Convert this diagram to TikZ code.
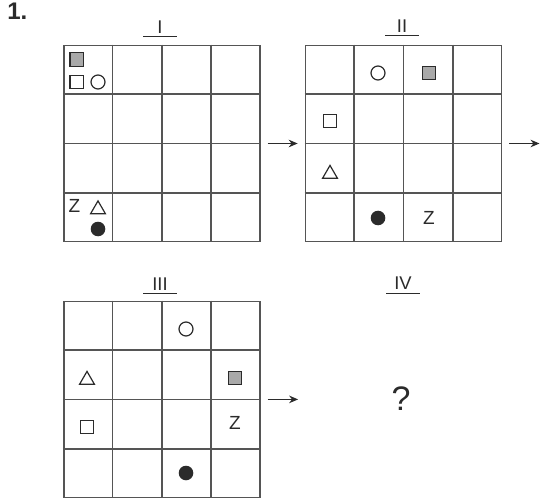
\documentclass[tikz,border=0pt]{standalone}
\usepackage{fontspec}
\setmainfont{Liberation Sans}
\usetikzlibrary{arrows.meta,calc,shapes.geometric}
\definecolor{ink}{HTML}{2B2B2B}
\definecolor{rule}{HTML}{555555}
\definecolor{shade}{HTML}{A9A9A9}

\begin{document}
\begin{tikzpicture}[x=0.5pt, y=-0.5pt, every node/.style={text=ink},
      board/.style={draw=rule, line width=0.85pt, minimum size=98pt, inner sep=0pt},
      gline/.style={draw=rule, line width=0.75pt},
      lab/.style={anchor=base, minimum width=16.5pt, inner sep=0pt, font=\fontsize{9.2}{11}\selectfont},
      uline/.style={draw=ink, line width=0.6pt},
      osq/.style={draw=ink, line width=0.6pt, minimum size=6.8pt, inner sep=0pt},
      gsq/.style={osq, fill=shade},
      ring/.style={circle, draw=ink, line width=0.6pt, minimum size=7pt, inner sep=0pt},
      dot/.style={circle, fill=ink, minimum size=7.3pt, inner sep=0pt},
      tri/.style={regular polygon, regular polygon sides=3, draw=ink, line width=0.6pt, minimum size=8.6pt, inner sep=0pt},
      letter/.style={inner sep=0pt, font=\fontsize{9.5}{11}\selectfont},
      arr/.style={-{Stealth[length=4.5pt,width=3.8pt]}, draw=ink, line width=0.55pt}]
    \useasboundingbox (0,0) rectangle (540,502);
    \node[anchor=base west, inner sep=0pt, font=\bfseries\fontsize{12}{14}\selectfont] (num) at (7,19.5) {1.};
    % boards
    \node[board] (g1) at (161.75,143.5) {};
    \node[board] (g2) at (403.5,143.5) {};
    \node[board] (g3) at (161.75,399.4) {};
    \node[minimum size=98pt, inner sep=0pt] (g4) at (403.5,399.4) {};
    \foreach \g in {g1,g2,g3} \foreach \k in {1,2,3} {
      \draw[gline] ($(\g.north west)!\k/4!(\g.north east)$) -- ($(\g.south west)!\k/4!(\g.south east)$);
      \draw[gline] ($(\g.north west)!\k/4!(\g.south west)$) -- ($(\g.north east)!\k/4!(\g.south east)$);
    }
    % titles
    \node[lab] (t1) at (160,34) {I};
    \node[lab] (t2) at (402,33) {II};
    \node[lab] (t3) at (160,290.5) {III};
    \node[lab] (t4) at (403,289.5) {IV};
    \foreach \t in {t1,t2,t3} \draw[uline] ([yshift=-1.1pt]\t.south west) -- ([yshift=-1.1pt]\t.south east);
    \draw[uline] ([yshift=-1.9pt]t4.south west) -- ([yshift=-1.9pt]t4.south east);
    % board I
    \node[gsq] (s1) at (76.7,59.5) {};
    \node[osq] (o1) at (76.7,82) {};
    \node[ring] (c1) at (98,82) {};
    \node[letter] (z1) at (74.5,206) {Z};
    \node[tri] (d1) at (98,209.5) {};
    \node[dot] (b1) at (98,229) {};
    % board II
    \node[ring] (c2) at (378,73) {};
    \node[gsq] (s2) at (429,73) {};
    \node[osq] (o2) at (330,121) {};
    \node[tri] (d2) at (330,174) {};
    \node[dot] (b2) at (378,218) {};
    \node[letter] (z2) at (429,218) {Z};
    % board III
    \node[ring] (c3) at (186,329) {};
    \node[tri] (d3) at (87,380) {};
    \node[gsq] (s3) at (235,378) {};
    \node[osq] (o3) at (87,427) {};
    \node[letter] (z3) at (235,423) {Z};
    \node[dot] (b3) at (186,473) {};
    % board IV
    \node[font=\fontsize{17}{20}\selectfont, inner sep=0pt] (q) at (401,399) {?};
    \coordinate (rim) at (539.5,143.5);
    \draw[arr] ([xshift=3.5pt]g1.east) -- ([xshift=-3.5pt]g2.west);
    \draw[arr] ([xshift=3.5pt]g2.east) -- (rim);
    \draw[arr] ([xshift=3.5pt]g3.east) -- ([xshift=-3.5pt]g4.west);
  \end{tikzpicture}
\end{document}
